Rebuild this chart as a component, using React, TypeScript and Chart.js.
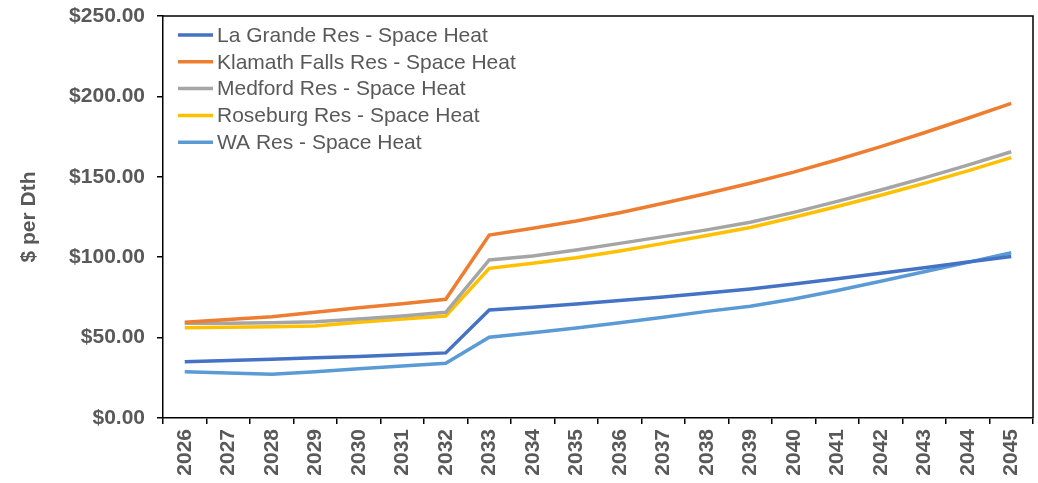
import React, { useEffect, useRef } from "react";
import { Chart, registerables } from "chart.js";

Chart.register(...registerables);

const years = ["2026","2027","2028","2029","2030","2031","2032","2033","2034","2035","2036","2037","2038","2039","2040","2041","2042","2043","2044","2045"];

const laGrande = [35.0, 35.8, 36.6, 37.4, 38.3, 39.3, 40.5, 67.2, 68.8, 70.9, 73.0, 75.3, 77.7, 80.2, 83.3, 86.6, 90.0, 93.5, 97.0, 100.4];
const klamathFalls = [59.5, 61.2, 63.0, 65.7, 68.6, 71.0, 73.8, 113.8, 118.0, 122.5, 127.7, 133.5, 139.6, 146.0, 152.9, 160.6, 168.8, 177.4, 186.4, 195.7];
const medford = [58.9, 59.0, 59.3, 59.9, 61.5, 63.5, 65.7, 98.3, 100.7, 104.5, 108.6, 112.8, 117.0, 121.7, 127.9, 134.7, 141.8, 149.3, 157.3, 165.6];
const roseburg = [56.2, 56.5, 56.8, 57.2, 59.5, 61.5, 63.4, 93.1, 96.2, 99.7, 103.9, 108.6, 113.5, 118.5, 124.8, 131.5, 138.5, 145.9, 153.7, 161.9];
const wa = [28.8, 28.0, 27.2, 28.8, 30.7, 32.3, 34.0, 50.2, 53.0, 56.0, 59.3, 62.6, 66.3, 69.5, 74.0, 79.3, 85.0, 90.9, 96.8, 102.8];

const seriesLabels = [
  "La Grande Res - Space Heat",
  "Klamath Falls Res - Space Heat",
  "Medford Res - Space Heat",
  "Roseburg Res - Space Heat",
  "WA Res - Space Heat",
];
const seriesColors = ["#4472C4", "#ED7D31", "#A5A5A5", "#FFC000", "#5B9BD5"];
const seriesValues = [laGrande, klamathFalls, medford, roseburg, wa];

const yMin = 0;
const yMax = 250;
const yStep = 50;
const yTitle = "$ per Dth";

const FONT = '"Liberation Sans", Arial, Helvetica, sans-serif';
const TEXT_COLOR = "#595959";

const insideLegend = {
  id: "insideLegend",
  afterDraw(chart: any) {
    const { ctx, chartArea } = chart;
    ctx.save();
    // top & right frame
    ctx.strokeStyle = "#000";
    ctx.lineWidth = 1.5;
    ctx.beginPath();
    ctx.moveTo(chartArea.left, chartArea.top);
    ctx.lineTo(chartArea.right, chartArea.top);
    ctx.lineTo(chartArea.right, chartArea.bottom);
    ctx.stroke();
    // legend
    ctx.font = `21px ${FONT}`;
    ctx.textBaseline = "middle";
    ctx.textAlign = "left";
    chart.data.datasets.forEach((ds: any, i: number) => {
      const y = chartArea.top + 19 + i * 26.8;
      const x0 = chartArea.left + 15;
      ctx.strokeStyle = ds.borderColor;
      ctx.lineWidth = 3.5;
      ctx.lineCap = "butt";
      ctx.beginPath();
      ctx.moveTo(x0, y);
      ctx.lineTo(x0 + 35, y);
      ctx.stroke();
      ctx.fillStyle = TEXT_COLOR;
      ctx.fillText(ds.label, x0 + 39, y + 1);
    });
    ctx.restore();
  },
};

export default function App() {
  const ref = useRef<HTMLCanvasElement | null>(null);
  useEffect(() => {
    if (!ref.current) return;
    const chart = new Chart(ref.current, {
      type: "line",
      data: {
        labels: years,
        datasets: seriesValues.map((vals, i) => ({
          label: seriesLabels[i],
          data: vals,
          borderColor: seriesColors[i],
          backgroundColor: seriesColors[i],
          borderWidth: 3.5,
          pointRadius: 0,
          pointHoverRadius: 0,
          tension: 0,
          fill: false,
        })),
      },
      options: {
        responsive: false,
        animation: false,
        layout: { padding: { left: 0, top: 4, right: 0, bottom: 0 } },
        plugins: {
          legend: { display: false },
          tooltip: { enabled: false },
        },
        scales: {
          x: {
            type: "category",
            offset: true,
            grid: {
              display: true,
              offset: true,
              drawOnChartArea: false,
              drawTicks: true,
              tickLength: 6,
              color: "#000",
              lineWidth: 1.5,
            },
            border: { display: true, color: "#000", width: 1.5 },
            ticks: {
              autoSkip: false,
              maxRotation: 90,
              minRotation: 90,
              padding: 5,
              color: TEXT_COLOR,
              font: { family: FONT, size: 21, weight: "bold" },
            },
            afterFit(scale: any) {
              scale.height = 65;
              scale.paddingRight = 5;
            },
          },
          y: {
            min: yMin,
            max: yMax,
            grid: {
              display: true,
              drawOnChartArea: false,
              drawTicks: true,
              tickLength: 6,
              color: "#000",
              lineWidth: 1.5,
            },
            border: { display: true, color: "#000", width: 1.5 },
            ticks: {
              stepSize: yStep,
              padding: 12,
              color: TEXT_COLOR,
              font: { family: FONT, size: 21, weight: "bold" },
              callback: (v: any) => "$" + Number(v).toFixed(2),
            },
            title: {
              display: true,
              text: yTitle,
              color: TEXT_COLOR,
              font: { family: FONT, size: 21, weight: "bold" },
              padding: { top: 17, bottom: 0 },
            },
            afterFit(scale: any) {
              scale.width = 163;
              scale.paddingTop = 16;
            },
          },
        },
      },
      plugins: [insideLegend],
    } as any);
    return () => chart.destroy();
  }, []);
  return (
    <div style={{ position: "fixed", left: 0, top: 0, width: 1038, height: 483, background: "#fff" }}>
      <canvas ref={ref} width={1038} height={483} style={{ display: "block" }} />
    </div>
  );
}
